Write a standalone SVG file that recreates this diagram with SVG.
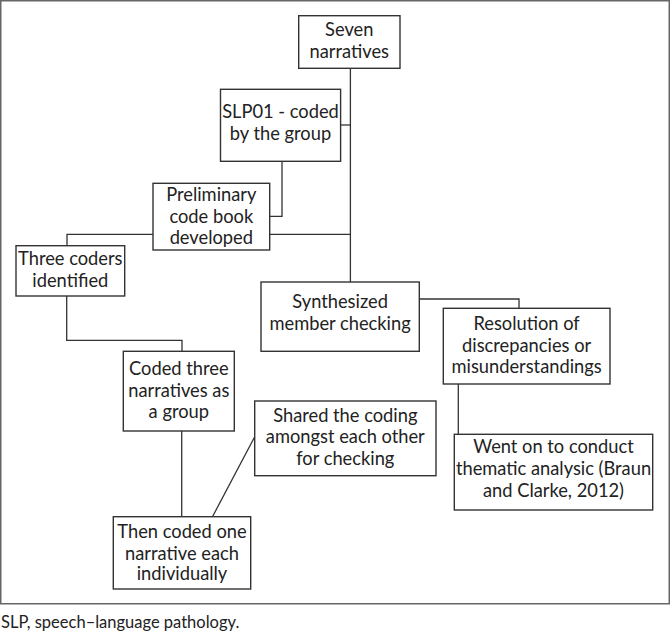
<svg xmlns="http://www.w3.org/2000/svg" width="670" height="634" viewBox="0 0 670 634">
<style>
.box{fill:#fff;stroke:#333;stroke-width:1.4}
.t{font-family:Lato,"Liberation Sans",sans-serif;font-size:18.3px;fill:#222;text-anchor:middle}
.c{fill:none;stroke:#333;stroke-width:1.3}
.frame{fill:none;stroke:#666;stroke-width:1.5}
.cap{font-family:Lato,"Liberation Sans",sans-serif;font-size:16.5px;fill:#222}
</style>
<rect width="670" height="634" fill="#fff"/>
<rect class="frame" x="0.75" y="0.75" width="668.5" height="603"/>
<g id="connectors">
<path class="c" d="M350.4 68.3V282"/>
<path class="c" d="M340.6 125H350.4"/>
<path class="c" d="M282 161.3V216.3H269.7"/>
<path class="c" d="M269.7 234.3H350.4"/>
<path class="c" d="M153 234.3H67V245.7"/>
<path class="c" d="M66.7 296V340.3H182V351.3"/>
<path class="c" d="M181.7 431V516.7"/>
<path class="c" d="M212.5 516.7L254.7 436.7"/>
<path class="c" d="M419.3 299H519V308.3"/>
<path class="c" d="M458.3 384V434.3"/>
</g>
<g id="n1"><rect class="box" x="298.7" y="15.7" width="101.3" height="52.6"/><text class="t" x="349.3" y="35.7">Seven</text><text class="t" x="349.3" y="57.7">narratives</text></g>
<g id="n2"><rect class="box" x="220.5" y="89.3" width="120.1" height="72"/><text class="t" x="280.5" y="118.3">SLP01 - coded</text><text class="t" x="280.5" y="140">by the group</text></g>
<g id="n3"><rect class="box" x="153" y="183.3" width="116.7" height="66.7"/><text class="t" x="211.3" y="200.7">Preliminary</text><text class="t" x="211.3" y="222.7">code book</text><text class="t" x="211.3" y="244">developed</text></g>
<g id="n4"><rect class="box" x="16" y="245.7" width="108.7" height="50.3"/><text class="t" x="70.3" y="265">Three coders</text><text class="t" x="70.3" y="286.7">identified</text></g>
<g id="n5"><rect class="box" x="261" y="282" width="158.3" height="69.3"/><text class="t" x="340.1" y="307.7">Synthesized</text><text class="t" x="340.1" y="330">member checking</text></g>
<g id="n6"><rect class="box" x="443.3" y="308.3" width="166.7" height="75.7"/><text class="t" x="526.6" y="330">Resolution of</text><text class="t" x="526.6" y="352.3">discrepancies or</text><text class="t" x="526.6" y="373.3">misunderstandings</text></g>
<g id="n7"><rect class="box" x="123.3" y="351.3" width="111" height="79.7"/><text class="t" x="178.8" y="375">Coded three</text><text class="t" x="178.8" y="396.7">narratives as</text><text class="t" x="178.8" y="418.3">a group</text></g>
<g id="n8"><rect class="box" x="254.7" y="401" width="181.3" height="74.7"/><text class="t" x="345.3" y="421.7">Shared the coding</text><text class="t" x="345.3" y="443.3">amongst each other</text><text class="t" x="345.3" y="465">for checking</text></g>
<g id="n9"><rect class="box" x="454.3" y="434.3" width="198.4" height="75.7"/><text class="t" x="553.5" y="453.3">Went on to conduct</text><text class="t" x="553.5" y="475">thematic analysic (Braun</text><text class="t" x="553.5" y="496.7">and Clarke, 2012)</text></g>
<g id="n10"><rect class="box" x="113.3" y="516.7" width="137.4" height="72.3"/><text class="t" x="182" y="538.3">Then coded one</text><text class="t" x="182" y="560">narrative each</text><text class="t" x="182" y="580">individually</text></g>
<text class="cap" x="1" y="628">SLP, speech–language pathology.</text>
</svg>
